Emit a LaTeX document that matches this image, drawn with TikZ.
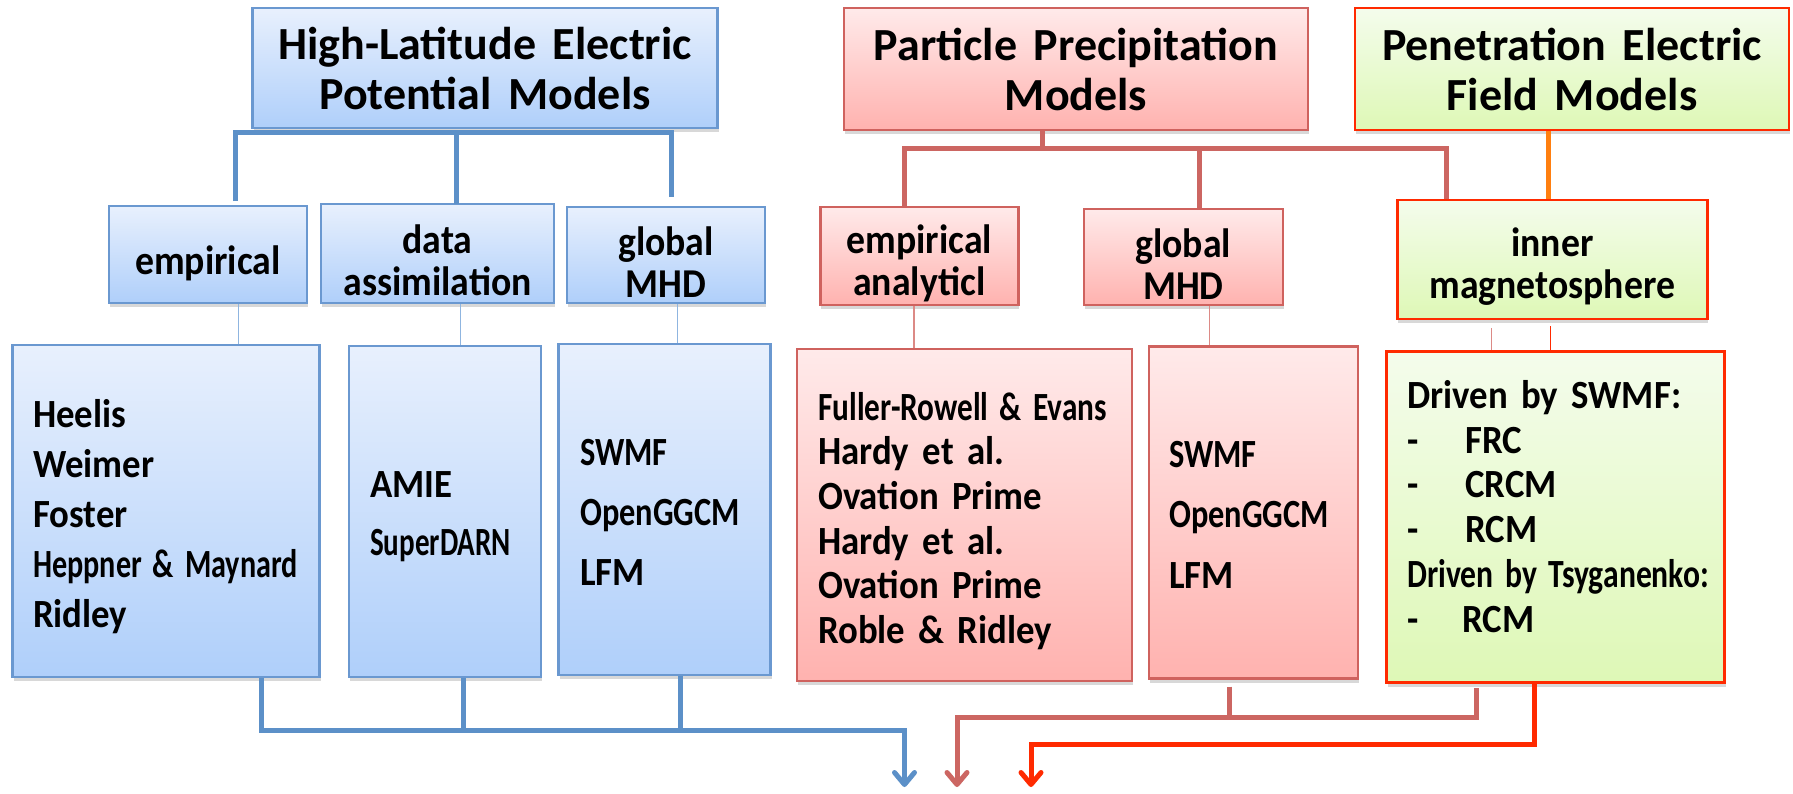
\documentclass[tikz,border=0pt]{standalone}
\usepackage{fontspec}
\usepackage{graphicx}
\setmainfont{Carlito}[WordSpace=1.6]
\newfontfamily\narrowfont{Carlito}[FakeStretch=0.92, WordSpace=1.6]
\usetikzlibrary{arrows.meta,shadows}

\definecolor{bluefillA}{HTML}{E8F0FD}
\definecolor{bluefillB}{HTML}{AFCFFA}
\definecolor{blueedge}{HTML}{6A98D0}
\definecolor{blueline}{HTML}{5C90C8}
\definecolor{bluethin}{HTML}{8FB5E0}
\definecolor{redfillA}{HTML}{FFEAEA}
\definecolor{redfillB}{HTML}{FFB2AF}
\definecolor{rededge}{HTML}{CF625E}
\definecolor{redline}{HTML}{CC6662}
\definecolor{redthin}{HTML}{DC8A86}
\definecolor{greenfillA}{HTML}{F4FCEC}
\definecolor{greenfillB}{HTML}{DEF8B6}
\definecolor{hotred}{HTML}{FF2A00}
\definecolor{orangeline}{HTML}{FF7F10}

\newcommand\squeeze[2]{\scalebox{#1}[1]{#2}}
\newcommand\catstrut{\rule{0pt}{43pt}}
\newcommand\liststrut{\rule{0pt}{32pt}}

\tikzset{
  box/.style={draw, line width=2.5pt, inner sep=0pt,
    drop shadow={shadow xshift=1pt, shadow yshift=-4pt, opacity=0.25, fill=black!60}},
  bluebox/.style={box, draw=blueedge, top color=bluefillA, bottom color=bluefillB},
  redbox/.style={box, draw=rededge, top color=redfillA, bottom color=redfillB},
  greenbox/.style={box, draw=hotred, top color=greenfillA, bottom color=greenfillB},
  titletext/.style={align=center, font=\fontsize{46}{50}\selectfont\bfseries},
  cattext/.style={align=center, font=\narrowfont\fontsize{41}{42}\selectfont\bfseries},
  listtext/.style={anchor=north west, inner sep=0pt, align=left},
  tip/.style={-{Straight Barb[length=12pt,width=20pt,line join=round,line cap=round]}},
  bluebar/.style={draw=blueline, line width=5pt},
  redbar/.style={draw=redline, line width=5pt},
  hotbar/.style={draw=hotred, line width=5pt},
  orangebar/.style={draw=orangeline, line width=5pt},
  bluethinline/.style={draw=bluethin, line width=1.2pt},
  redthinline/.style={draw=redthin, line width=1.2pt},
  hotthinline/.style={draw=hotred, line width=1.2pt},
}

\begin{document}
\begin{tikzpicture}[x=1pt, y=-1pt]
\fill[white] (0,0) rectangle (1793,793);
\useasboundingbox (0,0) rectangle (1793,793);

% ---------- model families ----------
\node[bluebox, titletext, minimum width=465pt, minimum height=120pt] (hlep) at (485,68)
  {High-Latitude Electric\\Potential Models};
\node[redbox, titletext, minimum width=464pt, minimum height=122pt] (ppm) at (1076,69)
  {Particle Precipitation\\Models};
\node[greenbox, titletext, minimum width=434pt, minimum height=122pt] (pefm) at (1572,69)
  {Penetration Electric\\Field Models};

% ---------- categories ----------
\node[bluebox, cattext, minimum width=198pt, minimum height=97pt] (emp) at (208,254.5) {\rule{0pt}{46pt}empirical};
\node[bluebox, cattext, minimum width=233pt, minimum height=99pt] (da) at (437.5,253.5) {\catstrut data\\assimilation};
\node[bluebox, cattext, minimum width=198pt, minimum height=96pt] (gm) at (666,255) {\catstrut global\\MHD};
\node[redbox, cattext, minimum width=198pt, minimum height=98pt] (ea) at (919.3,256) {\catstrut empirical\\analyticl};
\node[redbox, cattext, minimum width=199pt, minimum height=96pt] (rgm) at (1183.3,257) {\catstrut global\\MHD};
\node[greenbox, cattext, minimum width=310pt, minimum height=119pt] (im) at (1552.3,259.5) {\catstrut inner\\magnetosphere};

% ---------- model lists ----------
\node[bluebox, minimum width=307pt, minimum height=332pt] (L1) at (166,511) {};
\node[bluebox, minimum width=192pt, minimum height=331pt] (L2) at (445,511.3) {};
\node[bluebox, minimum width=212pt, minimum height=331pt] (L3) at (664.5,509.5) {};
\node[redbox, minimum width=335pt, minimum height=332pt] (L4) at (964.5,515) {};
\node[redbox, minimum width=209pt, minimum height=332pt] (L5) at (1253.5,512.5) {};
\node[greenbox, minimum width=338pt, minimum height=331pt] (L6) at (1555.5,517) {};

\node[listtext, font=\narrowfont\fontsize{40}{50}\selectfont\bfseries] (t1) at (33,395)
  {\liststrut Heelis\\Weimer\\Foster\\\squeeze{0.82}{Heppner \& Maynard}\\Ridley};
\node[listtext, font=\narrowfont\fontsize{40}{58}\selectfont\bfseries] (t2) at (370,465)
  {\liststrut AMIE\\\squeeze{0.79}{SuperDARN}};
\node[listtext, font=\narrowfont\fontsize{40}{60}\selectfont\bfseries] (t3) at (580,433)
  {\liststrut\squeeze{0.88}{SWMF}\\\squeeze{0.88}{OpenGGCM}\\LFM};
\node[listtext, font=\narrowfont\fontsize{40}{44.6}\selectfont\bfseries] (t4) at (818,388)
  {\liststrut\squeeze{0.85}{Fuller-Rowell \& Evans}\\Hardy et al.\\Ovation Prime\\Hardy et al.\\Ovation Prime\\Roble \& Ridley};
\node[listtext, font=\narrowfont\fontsize{40}{60.5}\selectfont\bfseries] (t5) at (1169,435)
  {\liststrut\squeeze{0.88}{SWMF}\\\squeeze{0.88}{OpenGGCM}\\LFM};
\node[listtext, font=\narrowfont\fontsize{40}{44.8}\selectfont\bfseries] (t6) at (1407,376)
  {\liststrut Driven by SWMF:\\\makebox[58pt][l]{-}FRC\\\makebox[58pt][l]{-}CRCM\\\makebox[58pt][l]{-}RCM\\
   \squeeze{0.86}{Driven by Tsyganenko:}\\\makebox[55pt][l]{-}RCM};

% ---------- family to category connectors ----------
\coordinate (bj1) at (235,201);
\coordinate (bj2) at (456,204);
\coordinate (bj3) at (671.6,197);
\draw[bluebar] (bj1) |- ([yshift=-3.7pt]hlep.south -| bj3) -- (bj3);
\draw[bluebar] ([yshift=-3.7pt]hlep.south -| bj2) -- (bj2);

\coordinate (rbar) at (1042.6,148);
\draw[redbar] ([xshift=-14.8pt]ea.north) |- (rbar) -| ([xshift=-106.3pt]im.north);
\draw[redbar] ([xshift=-33.4pt]ppm.south) -- (rbar);
\draw[redbar] ([xshift=16.3pt]rgm.north) -- ([xshift=16.3pt]rgm.north |- rbar);

\draw[orangebar] ([xshift=-23.4pt]pefm.south) -- ([xshift=-23.4pt]pefm.south |- im.north);

% ---------- category to list connectors ----------
\draw[bluethinline] ([xshift=30.8pt]emp.south) -- ([xshift=30.8pt]emp.south |- L1.north);
\draw[bluethinline] ([xshift=22.9pt]da.south) -- ([xshift=22.9pt]da.south |- L2.north);
\draw[bluethinline] ([xshift=11.4pt]gm.south) -- ([xshift=11.4pt]gm.south |- L3.north);
\draw[redthinline] ([xshift=-5.3pt]ea.south) -- ([xshift=-5.3pt]ea.south |- L4.north);
\draw[redthinline] ([xshift=26.5pt]rgm.south) -- ([xshift=26.5pt]rgm.south |- L5.north);
\coordinate (imt1) at (1491.6,328);
\coordinate (imt2) at (1550.5,326);
\draw[redthinline] (imt1) -- (imt1 |- L6.north);
\draw[hotthinline] (imt2) -- (imt2 |- L6.north);

% ---------- outputs ----------
\coordinate (bbar) at (904.5,730);
\coordinate (bout) at (904.5,787);
\draw[bluebar, tip] ([xshift=95pt]L1.south) |- (bbar) -- (bout);
\draw[bluebar] ([xshift=18.8pt]L2.south) -- ([xshift=18.8pt]L2.south |- bbar);
\draw[bluebar] ([xshift=16.3pt]L3.south) -- ([xshift=16.3pt]L3.south |- bbar);

\coordinate (rs1) at (1229.4,686.7);
\coordinate (rs2) at (1476.4,688);
\coordinate (rbar2) at (957,717.7);
\coordinate (rout) at (957,787);
\draw[redbar, tip] (rs2) |- (rbar2) -- (rout);
\draw[redbar] (rs1) -- (rs1 |- rbar2);

\coordinate (hbar) at (1031,744.3);
\coordinate (hout) at (1031,787);
\draw[hotbar, tip] ([xshift=-20.9pt]L6.south) |- (hbar) -- (hout);
\end{tikzpicture}
\end{document}
